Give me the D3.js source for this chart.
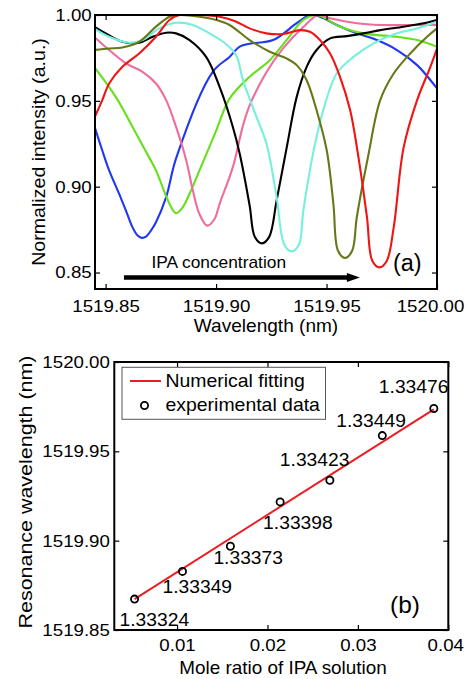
<!DOCTYPE html>
<html>
<head>
<meta charset="utf-8">
<script src="https://cdnjs.cloudflare.com/ajax/libs/d3/7.8.5/d3.min.js"></script>
<style>
  body { margin: 0; background: #fff; }
  svg { display: block; font-family: "Liberation Sans", Arial, sans-serif; }
  text { fill: #000; }
</style>
</head>
<body>
<div id="chart"></div>
<script>
// ---- panel (a): transmission spectra, [wavelength nm, normalized intensity]
var blue = [[1519.8448,0.9357],[1519.8485,0.9211],[1519.8516,0.9095],[1519.8561,0.8959],[1519.8592,0.8861],
  [1519.8622,0.8763],[1519.8645,0.8715],[1519.8663,0.8702],[1519.8683,0.8709],[1519.8705,0.8744],
  [1519.8728,0.8793],[1519.8774,0.8939],[1519.8819,0.9165],
  [1519.8985,0.9669],[1519.9061,0.9756],[1519.9107,0.9816],[1519.9152,0.9833],[1519.9258,0.9854],
  [1519.9365,0.9952],[1519.9425,1.0],[1519.9470,0.9990],[1519.9546,0.9942],[1519.9637,0.9893],
  [1519.9728,0.9854],[1519.9819,0.9796],[1519.9910,0.9708],[1520.0,0.9572]];
var green = [[1519.8448,0.9698],[1519.8546,0.9523],[1519.8622,0.9348],[1519.8683,0.9203],[1519.8728,0.9095],
  [1519.8758,0.8997],[1519.8789,0.8900],[1519.8819,0.8845],[1519.8849,0.8880],[1519.8880,0.8959],
  [1519.8925,0.9095],[1519.8963,0.9211],[1519.9001,0.9328],[1519.9061,0.9513],[1519.9152,0.9640],
  [1519.9243,0.9737],[1519.9319,0.9854],[1519.9395,0.9971],[1519.9455,1.0],[1519.9561,0.9932],
  [1519.9667,0.9893],[1519.9819,0.9873],[1519.9910,0.9854],[1520.0,0.9815]];
var pink = [[1519.8448,0.9873],[1519.8516,0.9796],[1519.8592,0.9718],[1519.8667,0.9669],[1519.8728,0.9601],
  [1519.8774,0.9504],[1519.8819,0.9348],[1519.8865,0.9153],[1519.8895,0.8978],[1519.8925,0.8840],
  [1519.8960,0.8773],[1519.8993,0.8812],[1519.9016,0.8900],[1519.9076,0.9114],[1519.9122,0.9357],
  [1519.9152,0.9474],[1519.9228,0.9667],[1519.9304,0.9807],[1519.9395,0.9930],[1519.9463,1.0],
  [1519.9516,0.9981],[1519.9637,0.9952],[1519.9743,0.9942],[1519.9894,0.9942],[1520.0,0.9942]];
var black = [[1519.8448,0.9932],[1519.8501,0.9893],[1519.8576,0.9844],[1519.8652,0.9838],[1519.8713,0.9873],
  [1519.8774,0.9897],[1519.8819,0.9893],[1519.8880,0.9854],[1519.8955,0.9756],[1519.9016,0.9581],
  [1519.9076,0.9348],[1519.9107,0.9192],[1519.9152,0.8890],[1519.9175,0.8709],[1519.9208,0.8670],
  [1519.9241,0.8709],[1519.9274,0.8919],[1519.9319,0.9223],[1519.9365,0.9523],[1519.9410,0.9698],
  [1519.9455,0.9796],[1519.9516,0.9864],[1519.9592,0.9877],[1519.9667,0.9893],[1519.9743,0.9912],
  [1519.9849,0.9932],[1519.9940,0.9952],[1520.0,0.9971]];
var cyan = [[1519.8448,0.9922],[1519.8516,0.9873],[1519.8607,0.9838],[1519.8667,0.9854],[1519.8743,0.9922],
  [1519.8819,0.9955],[1519.8895,0.9942],[1519.8970,0.9893],[1519.9046,0.9830],[1519.9091,0.9765],
  [1519.9122,0.9620],[1519.9183,0.9406],[1519.9228,0.9251],[1519.9274,0.8939],[1519.9309,0.8662],
  [1519.9342,0.8623],[1519.9375,0.8662],[1519.9395,0.8861],[1519.9440,0.9200],[1519.9485,0.9445],
  [1519.9546,0.9659],[1519.9622,0.9756],[1519.9713,0.9835],[1519.9819,0.9893],[1519.9910,0.9922],
  [1520.0,0.9961]];
var olive = [[1519.8448,0.9796],[1519.8516,0.9805],[1519.8576,0.9811],[1519.8652,0.9844],[1519.8728,0.9932],
  [1519.8789,0.9990],[1519.8834,1.0],[1519.8925,0.9990],[1519.9001,0.9971],[1519.9061,0.9942],
  [1519.9152,0.9854],[1519.9243,0.9786],[1519.9319,0.9747],[1519.9365,0.9708],[1519.9410,0.9620],
  [1519.9455,0.9445],[1519.9501,0.9211],[1519.9531,0.8900],[1519.9552,0.8627],[1519.9584,0.8585],
  [1519.9616,0.8627],[1519.9637,0.8822],[1519.9689,0.9182],[1519.9743,0.9504],[1519.9804,0.9659],
  [1519.9879,0.9776],[1519.9955,0.9873],[1520.0,0.9922]];
var red = [[1519.8448,0.9397],[1519.8485,0.9504],[1519.8516,0.9601],[1519.8576,0.9698],[1519.8652,0.9776],
  [1519.8728,0.9873],[1519.8789,0.9971],[1519.8834,1.0],[1519.8925,1.0],[1519.9016,0.9990],
  [1519.9084,0.9965],[1519.9152,0.9922],[1519.9228,0.9893],[1519.9304,0.9889],[1519.9380,0.9912],
  [1519.9425,0.9902],[1519.9470,0.9854],[1519.9516,0.9776],[1519.9561,0.9640],[1519.9607,0.9445],
  [1519.9641,0.9200],[1519.9683,0.8822],[1519.9707,0.8569],[1519.9740,0.8530],[1519.9773,0.8569],
  [1519.9804,0.8763],[1519.9849,0.9229],[1519.9910,0.9504],[1519.9970,0.9698],[1520.0,0.9805]];

var spectra = [blue, green, pink, black, cyan, olive, red];
var spectraColors = ["#2038f0", "#66e01c", "#f06c9c", "#000000", "#74f0dc", "#687818", "#f01414"];

var wlTicks = [1519.85, 1519.90, 1519.95, 1520.00];
var intTicks = [0.85, 0.90, 0.95, 1.00];
var arrowWl = [1519.8583, 1519.9651];
var arrowInt = 0.8471;

// ---- panel (b): resonance shift vs IPA mole ratio
var moleRatio = [0.0053, 0.0106, 0.0159, 0.0214, 0.0269, 0.0327, 0.0384];
var resonance = [1519.8673, 1519.8828, 1519.8969, 1519.9217, 1519.9338, 1519.9588, 1519.9740];
var refIndex = ["1.33324", "1.33349", "1.33373", "1.33398", "1.33423", "1.33449", "1.33476"];
var fitMole = [0.0053, 0.0384];
var fitRes = [1519.8673, 1519.9735];
var moleTicks = [0.01, 0.02, 0.03, 0.04];
var resTicks = [1519.85, 1519.90, 1519.95, 1520.00];
// label offsets next to each point (px)
var labelOffset = [[-15, 27], [-20, 22], [-17, 18], [-17, 27], [-50, -14], [-46, -9], [-55, -15]];

var svg = d3.select("#chart").append("svg")
    .attr("width", 468)
    .attr("height", 679);

function label(g, x, y, s, size, sx, anchor, rot) {
    return g.append("text")
        .attr("transform", "translate(" + x + "," + y + ")" + (rot ? " rotate(-90)" : "") + " scale(" + sx + ",1)")
        .attr("text-anchor", anchor || "start")
        .style("font-size", size + "px")
        .text(s);
}

function styleAxis(g) {
    g.select(".domain").remove();
    g.selectAll(".tick line").attr("stroke", "#000").attr("stroke-width", 1.2);
    g.selectAll(".tick text")
        .style("font-size", "17px")
        .style("font-family", "'Liberation Sans', Arial, sans-serif")
        .attr("fill", "#000")
        .attr("transform", "scale(1.1,1)");
}

// ===== panel (a)
var A = { left: 95, right: 437, top: 15, bottom: 289 };
var xa = d3.scaleLinear().domain([1519.8452, 1520.0]).range([A.left, A.right]);
var ya = d3.scaleLinear().domain([0.8404, 1.0]).range([A.bottom, A.top]);

svg.append("clipPath").attr("id", "clipA")
    .append("rect").attr("x", A.left).attr("y", A.top)
    .attr("width", A.right - A.left).attr("height", A.bottom - A.top);

var lineA = d3.line()
    .x(function(d) { return xa(d[0]); })
    .y(function(d) { return ya(d[1]); })
    .curve(d3.curveCatmullRom.alpha(0.5));

svg.append("g").attr("clip-path", "url(#clipA)")
    .selectAll("path")
    .data(spectra)
    .enter().append("path")
    .attr("d", lineA)
    .attr("fill", "none")
    .attr("stroke", function(d, i) { return spectraColors[i]; })
    .attr("stroke-width", 2.1)
    .attr("stroke-linejoin", "round");

var gxa = svg.append("g").attr("transform", "translate(0," + A.bottom + ")")
    .call(d3.axisBottom(xa).tickValues(wlTicks).tickFormat(d3.format(".2f")).tickSize(-5).tickPadding(11));
styleAxis(gxa);
// last label sits slightly inside the figure edge
gxa.selectAll(".tick text").filter(function(d) { return d === 1520.00; })
    .attr("transform", "translate(-7,0) scale(1.1,1)");
var gxa2 = svg.append("g").attr("transform", "translate(0," + A.top + ")")
    .call(d3.axisTop(xa).tickValues(wlTicks).tickFormat("").tickSize(-5));
styleAxis(gxa2);
var gya = svg.append("g").attr("transform", "translate(" + A.left + ",0)")
    .call(d3.axisLeft(ya).tickValues(intTicks).tickFormat(d3.format(".2f")).tickSize(-5).tickPadding(3));
styleAxis(gya);
var gya2 = svg.append("g").attr("transform", "translate(" + A.right + ",0)")
    .call(d3.axisRight(ya).tickValues(intTicks).tickFormat("").tickSize(-5));
styleAxis(gya2);

svg.append("rect")
    .attr("x", A.left).attr("y", A.top)
    .attr("width", A.right - A.left).attr("height", A.bottom - A.top)
    .attr("fill", "none").attr("stroke", "#000").attr("stroke-width", 2);

// concentration arrow
var ay = ya(arrowInt);
svg.append("line")
    .attr("x1", xa(arrowWl[0])).attr("x2", xa(arrowWl[1]) - 10)
    .attr("y1", ay).attr("y2", ay)
    .attr("stroke", "#000").attr("stroke-width", 4.5);
svg.append("path")
    .attr("d", "M" + xa(arrowWl[1]) + "," + ay + " L" + (xa(arrowWl[1]) - 13) + "," + (ay - 4.5) +
        " L" + (xa(arrowWl[1]) - 13) + "," + (ay + 4.5) + " Z")
    .attr("fill", "#000");

label(svg, 151.5, 268.3, "IPA concentration", 17, 1.02);
label(svg, 393, 270.5, "(a)", 23, 1.02);
label(svg, 266, 332, "Wavelength (nm)", 18, 1.06, "middle");
label(svg, 45, 152, "Normalized intensity (a.u.)", 18, 1.09, "middle", true);

// ===== panel (b)
var B = { left: 114.3, right: 448.3, top: 362, bottom: 630 };
var xb = d3.scaleLinear().domain([0.00306, 0.04]).range([B.left, B.right]);
var yb = d3.scaleLinear().domain([1519.85, 1520.0]).range([B.bottom, B.top]);

var gxb = svg.append("g").attr("transform", "translate(0," + B.bottom + ")")
    .call(d3.axisBottom(xb).tickValues(moleTicks).tickFormat(d3.format(".2f")).tickSize(-5).tickPadding(9));
styleAxis(gxb);
gxb.selectAll(".tick text").filter(function(d) { return d === 0.04; })
    .attr("transform", "translate(-3,0) scale(1.1,1)");
var gxb2 = svg.append("g").attr("transform", "translate(0," + B.top + ")")
    .call(d3.axisTop(xb).tickValues(moleTicks).tickFormat("").tickSize(-5));
styleAxis(gxb2);
var gyb = svg.append("g").attr("transform", "translate(" + B.left + ",0)")
    .call(d3.axisLeft(yb).tickValues(resTicks).tickFormat(d3.format(".2f")).tickSize(-5).tickPadding(4));
styleAxis(gyb);
var gyb2 = svg.append("g").attr("transform", "translate(" + B.right + ",0)")
    .call(d3.axisRight(yb).tickValues(resTicks).tickFormat("").tickSize(-5));
styleAxis(gyb2);

svg.append("rect")
    .attr("x", B.left).attr("y", B.top)
    .attr("width", B.right - B.left).attr("height", B.bottom - B.top)
    .attr("fill", "none").attr("stroke", "#000").attr("stroke-width", 2);

var lineB = d3.line()
    .x(function(d) { return xb(d[0]); })
    .y(function(d) { return yb(d[1]); });

svg.append("path")
    .datum(d3.zip(fitMole, fitRes))
    .attr("d", lineB)
    .attr("fill", "none")
    .attr("stroke", "#ec1c24")
    .attr("stroke-width", 2);

var pts = d3.zip(moleRatio, resonance);
svg.append("g").selectAll("circle")
    .data(pts)
    .enter().append("circle")
    .attr("cx", function(d) { return xb(d[0]); })
    .attr("cy", function(d) { return yb(d[1]); })
    .attr("r", 3.6)
    .attr("fill", "none")
    .attr("stroke", "#000")
    .attr("stroke-width", 1.8);

pts.forEach(function(d, i) {
    label(svg, xb(d[0]) + labelOffset[i][0], yb(d[1]) + labelOffset[i][1], refIndex[i], 18, 1.07);
});

// legend
var lg = svg.append("g");
lg.append("rect")
    .attr("x", 122).attr("y", 367.3).attr("width", 203.5).attr("height", 52)
    .attr("fill", "#fff").attr("stroke", "#555").attr("stroke-width", 1);
lg.append("line")
    .attr("x1", 130).attr("x2", 161).attr("y1", 381).attr("y2", 381)
    .attr("stroke", "#ec1c24").attr("stroke-width", 2);
lg.append("circle")
    .attr("cx", 144.5).attr("cy", 405.5).attr("r", 3.6)
    .attr("fill", "none").attr("stroke", "#000").attr("stroke-width", 1.8);
label(lg, 165.5, 387, "Numerical fitting", 18, 1.08);
label(lg, 165.5, 411, "experimental data", 18, 1.08);

label(svg, 390, 613, "(b)", 24, 1.02);
label(svg, 283, 674, "Mole ratio of IPA solution", 18, 1.05, "middle");
label(svg, 31.7, 492, "Resonance wavelength (nm)", 18.5, 1.16, "middle", true);
</script>
</body>
</html>
